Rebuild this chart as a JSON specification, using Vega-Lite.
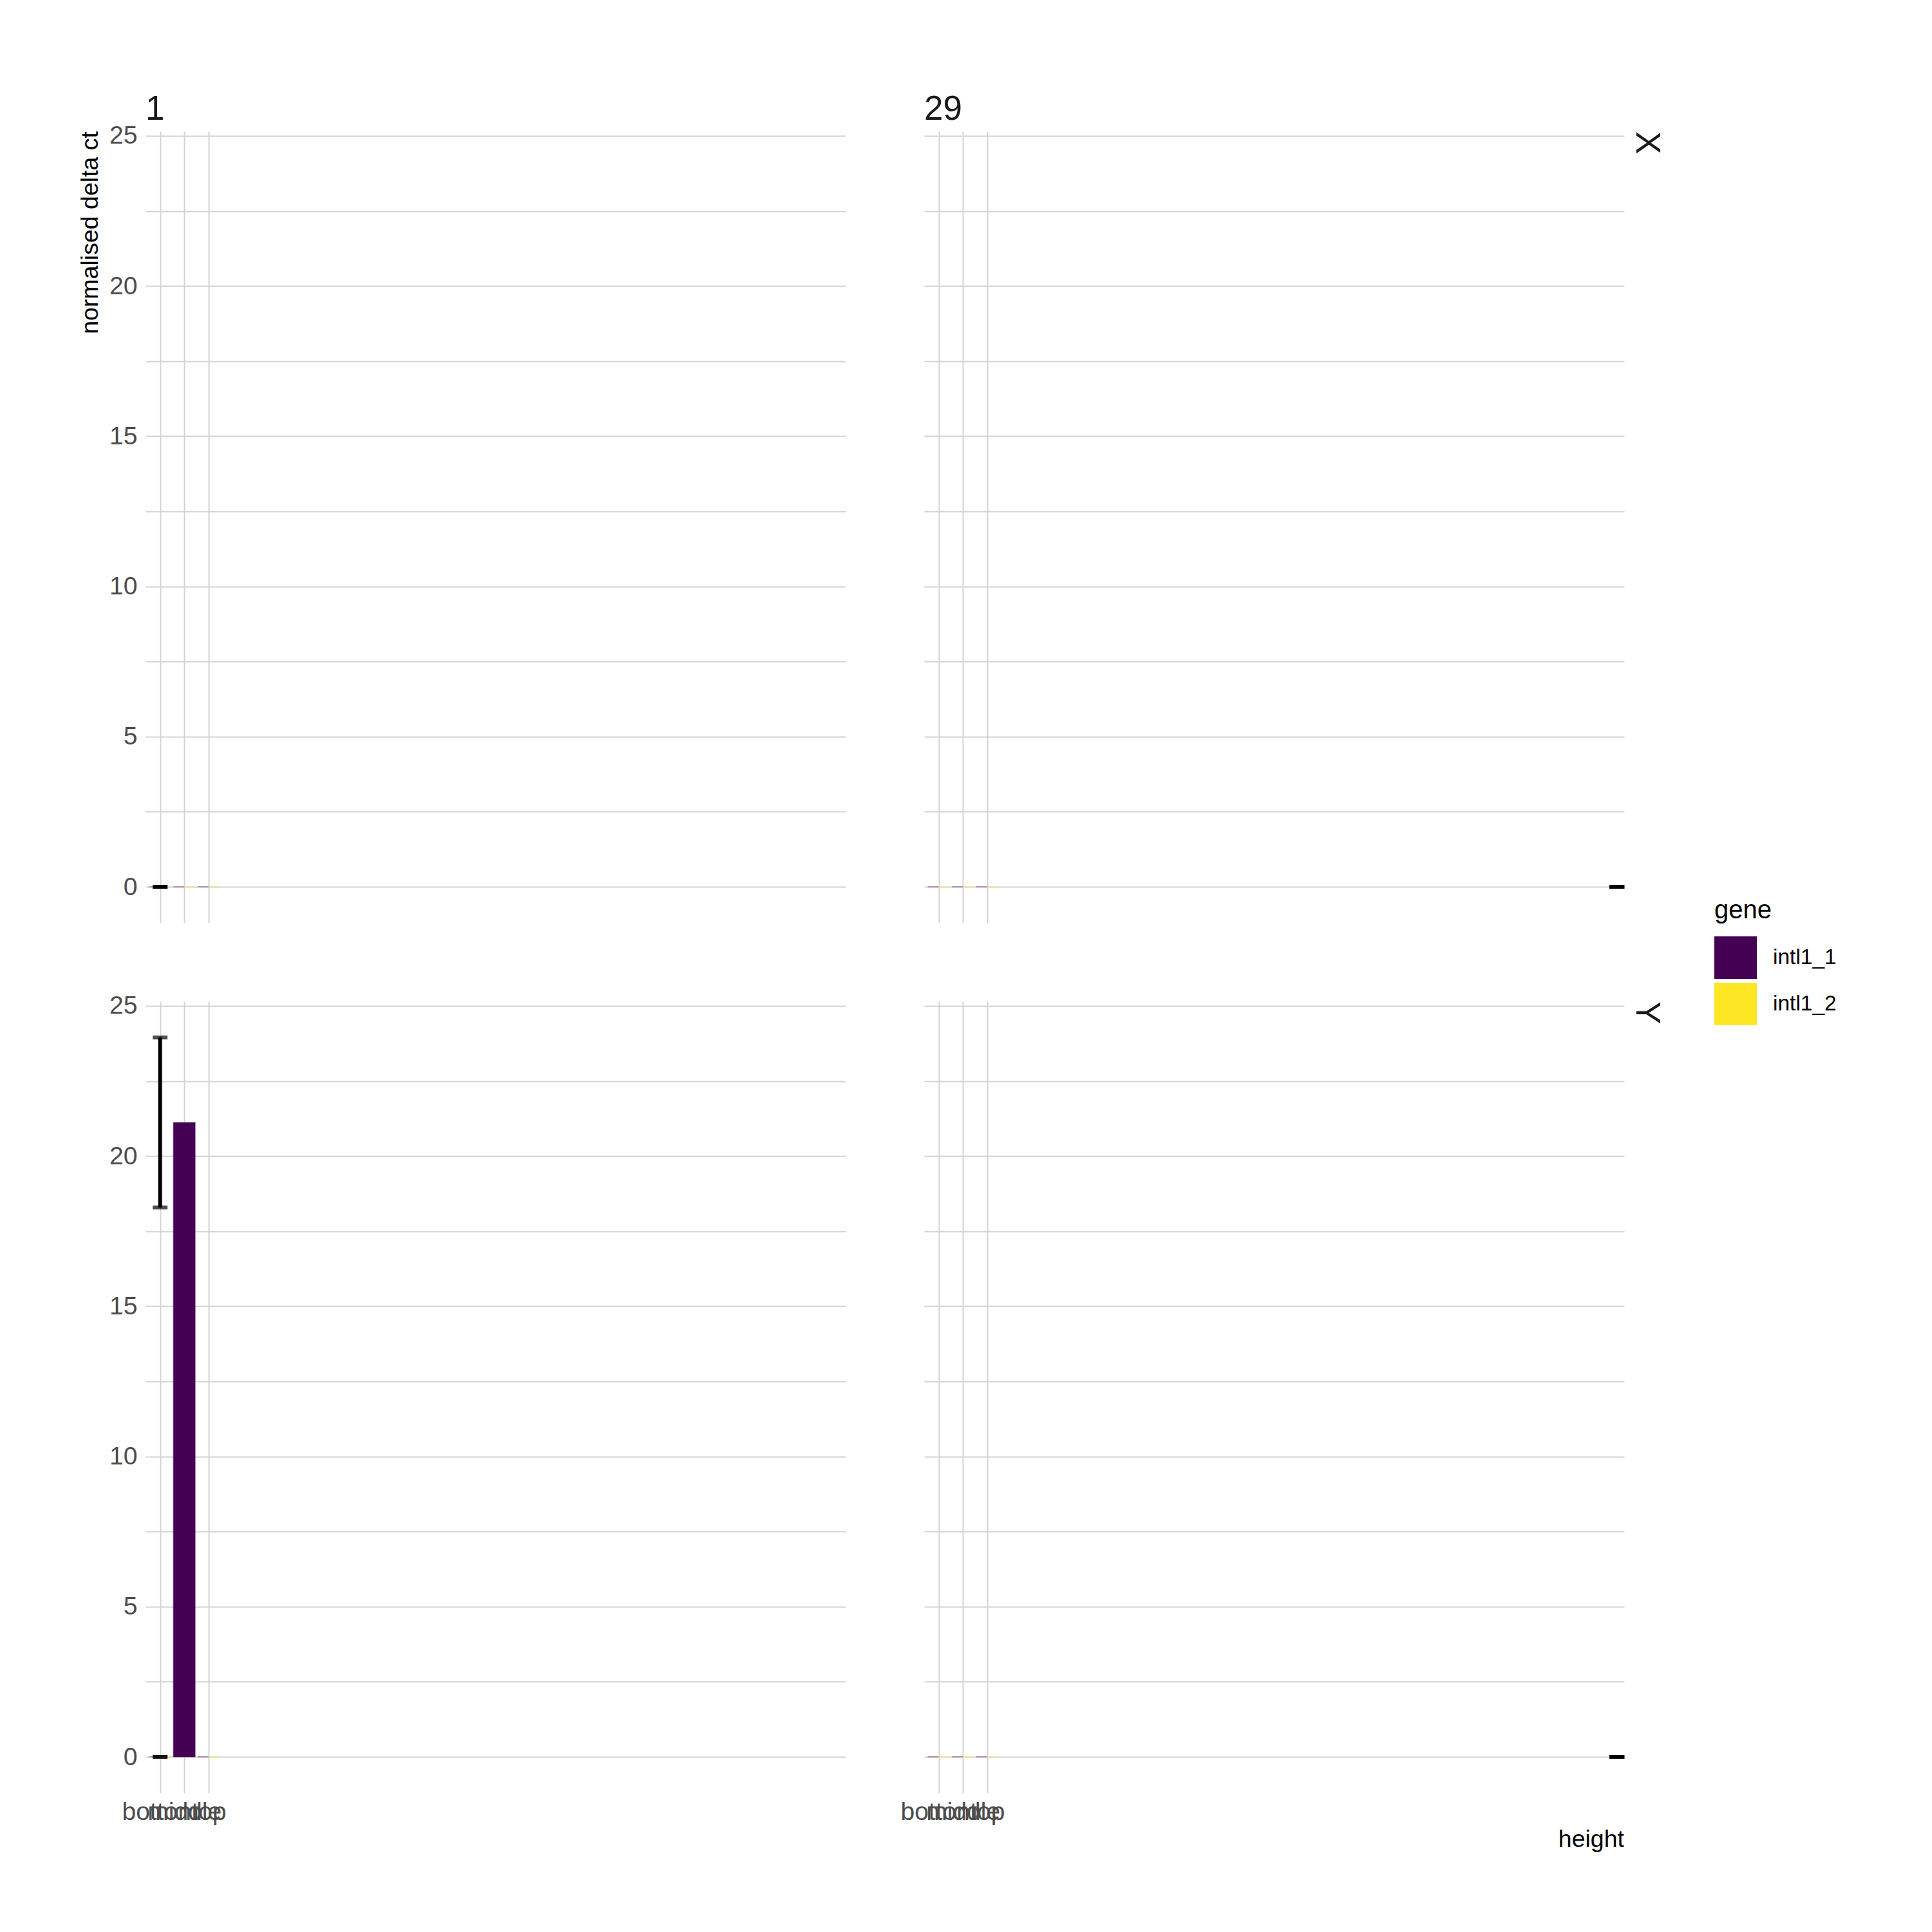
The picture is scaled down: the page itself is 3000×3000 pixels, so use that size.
{
  "$schema": "https://vega.github.io/schema/vega-lite/v6.json",
  "autosize": {"type": "none"},
  "padding": {"left": 226, "top": 204, "right": 2774, "bottom": 2796},
  "background": "white",
  "data": {"values": [
    {"kind": "bar", "sex": "X", "day": 1, "height": "bottom", "gene": "intl1_1", "value": 0},
    {"kind": "bar", "sex": "X", "day": 1, "height": "bottom", "gene": "intl1_2", "value": 0},
    {"kind": "bar", "sex": "X", "day": 1, "height": "middle", "gene": "intl1_1", "value": 0},
    {"kind": "bar", "sex": "X", "day": 1, "height": "middle", "gene": "intl1_2", "value": 0},
    {"kind": "bar", "sex": "X", "day": 1, "height": "top", "gene": "intl1_1", "value": 0},
    {"kind": "bar", "sex": "X", "day": 1, "height": "top", "gene": "intl1_2", "value": 0},
    {"kind": "bar", "sex": "X", "day": 29, "height": "bottom", "gene": "intl1_1", "value": 0},
    {"kind": "bar", "sex": "X", "day": 29, "height": "bottom", "gene": "intl1_2", "value": 0},
    {"kind": "bar", "sex": "X", "day": 29, "height": "middle", "gene": "intl1_1", "value": 0},
    {"kind": "bar", "sex": "X", "day": 29, "height": "middle", "gene": "intl1_2", "value": 0},
    {"kind": "bar", "sex": "X", "day": 29, "height": "top", "gene": "intl1_1", "value": 0},
    {"kind": "bar", "sex": "X", "day": 29, "height": "top", "gene": "intl1_2", "value": 0},
    {"kind": "bar", "sex": "Y", "day": 1, "height": "bottom", "gene": "intl1_1", "value": 0},
    {"kind": "bar", "sex": "Y", "day": 1, "height": "bottom", "gene": "intl1_2", "value": 0},
    {"kind": "bar", "sex": "Y", "day": 1, "height": "middle", "gene": "intl1_1", "value": 21.12},
    {"kind": "bar", "sex": "Y", "day": 1, "height": "top", "gene": "intl1_1", "value": 0},
    {"kind": "bar", "sex": "Y", "day": 1, "height": "top", "gene": "intl1_2", "value": 0},
    {"kind": "bar", "sex": "Y", "day": 29, "height": "bottom", "gene": "intl1_1", "value": 0},
    {"kind": "bar", "sex": "Y", "day": 29, "height": "bottom", "gene": "intl1_2", "value": 0},
    {"kind": "bar", "sex": "Y", "day": 29, "height": "middle", "gene": "intl1_1", "value": 0},
    {"kind": "bar", "sex": "Y", "day": 29, "height": "middle", "gene": "intl1_2", "value": 0},
    {"kind": "bar", "sex": "Y", "day": 29, "height": "top", "gene": "intl1_1", "value": 0},
    {"kind": "bar", "sex": "Y", "day": 29, "height": "top", "gene": "intl1_2", "value": 0},
    {"kind": "err", "sex": "X", "day": 1, "gene": "intl1_1", "ymin": 0, "ymax": 0},
    {"kind": "err", "sex": "X", "day": 1, "gene": "intl1_2", "ymin": 0, "ymax": 0},
    {"kind": "err", "sex": "X", "day": 29, "gene": "intl1_1", "ymin": 0, "ymax": 0},
    {"kind": "err", "sex": "X", "day": 29, "gene": "intl1_2", "ymin": 0, "ymax": 0},
    {"kind": "err", "sex": "Y", "day": 1, "gene": "intl1_1", "ymin": 18.29, "ymax": 23.95},
    {"kind": "err", "sex": "Y", "day": 1, "gene": "intl1_2", "ymin": 0, "ymax": 0},
    {"kind": "err", "sex": "Y", "day": 29, "gene": "intl1_1", "ymin": 0, "ymax": 0},
    {"kind": "err", "sex": "Y", "day": 29, "gene": "intl1_2", "ymin": 0, "ymax": 0}
  ]},
  "facet": {
    "row": {
      "field": "sex", "type": "nominal",
      "header": {
        "title": "normalised delta ct",
        "titleOrient": "left",
        "titleAnchor": "end",
        "titleAngle": -90,
        "titleFontSize": 37.5,
        "titleFontWeight": "normal",
        "titleColor": "black",
        "titlePadding": -38,
        "labelOrient": "right",
        "labelAngle": 90,
        "labelAnchor": "start",
        "labelAlign": "left",
        "labelBaseline": "alphabetic",
        "labelFontSize": 53,
        "labelColor": "#1a1a1a",
        "labelPadding": -35,
        "labelExpr": "'\\u200b\\u00a0' + datum.label"
      }
    },
    "column": {
      "field": "day", "type": "ordinal",
      "header": {
        "title": "height",
        "titleOrient": "bottom",
        "titleAnchor": "end",
        "titleFontSize": 37.5,
        "titleFontWeight": "normal",
        "titleColor": "black",
        "titlePadding": -5,
        "labelOrient": "top",
        "labelAnchor": "start",
        "labelAlign": "left",
        "labelBaseline": "alphabetic",
        "labelFontSize": 53,
        "labelColor": "#1a1a1a",
        "labelPadding": -35,
        "labelExpr": "'\\u200b\\u00a0' + datum.label"
      }
    }
  },
  "spacing": {"row": 122, "column": 121},
  "spec": {
    "width": 1087,
    "height": 1229,
    "layer": [
      {
        "transform": [
          {"filter": "datum.kind === 'bar'"},
          {"joinaggregate": [{"op": "count", "as": "n"}], "groupby": ["sex", "day", "height"]},
          {"calculate": "indexof(['bottom','middle','top'], datum.height) + 1", "as": "xc"},
          {"calculate": "datum.n === 1 ? datum.xc - 0.45 : (datum.gene === 'intl1_1' ? datum.xc - 0.45 : datum.xc)", "as": "x1"},
          {"calculate": "datum.n === 1 ? datum.xc + 0.45 : (datum.gene === 'intl1_1' ? datum.xc : datum.xc + 0.45)", "as": "x2"}
        ],
        "mark": {"type": "rect", "strokeWidth": 2, "strokeOpacity": 0.35},
        "encoding": {
          "x": {
            "field": "x1", "type": "quantitative",
            "scale": {"domain": [0.4, 29.3], "nice": false, "zero": false},
            "axis": {
              "title": null, "values": [1, 2, 3],
              "labelExpr": "['bottom','middle','top'][datum.value - 1]",
              "labelOverlap": false, "labelFlush": false, "labelBound": false,
              "labelPadding": 10
            }
          },
          "x2": {"field": "x2"},
          "y": {
            "field": "value", "type": "quantitative",
            "scale": {"domain": [-1.2, 25.15], "nice": false, "zero": false},
            "axis": {
              "title": null,
              "values": [0, 2.5, 5, 7.5, 10, 12.5, 15, 17.5, 20, 22.5, 25],
              "labelExpr": "datum.value % 5 === 0 ? datum.label : ''",
              "labelPadding": 13
            }
          },
          "y2": {"datum": 0},
          "color": {
            "field": "gene", "type": "nominal",
            "scale": {"domain": ["intl1_1", "intl1_2"], "range": ["#440154", "#FDE725"]},
            "legend": {
              "title": "gene", "orient": "none", "legendX": 2436, "legendY": 1190,
              "symbolType": "square", "symbolSize": 4356, "symbolStrokeWidth": 0,
              "titleFontSize": 40, "titleFontWeight": "normal", "titleColor": "black", "titlePadding": 20,
              "labelFontSize": 33.5, "labelColor": "black", "labelOffset": 25, "rowPadding": 6, "padding": 0
            }
          },
          "stroke": {
            "field": "gene", "type": "nominal",
            "scale": {"domain": ["intl1_1", "intl1_2"], "range": ["#440154", "#FDE725"]},
            "legend": null
          }
        }
      },
      {
        "transform": [{"filter": "datum.kind === 'err'"}],
        "mark": {"type": "errorbar", "ticks": true, "size": 23, "thickness": 6, "color": "black"},
        "encoding": {
          "x": {"field": "day", "type": "quantitative"},
          "y": {"field": "ymin", "type": "quantitative"},
          "y2": {"field": "ymax"}
        }
      }
    ]
  },
  "config": {
    "font": "Liberation Sans",
    "view": {"stroke": null},
    "axis": {
      "domain": false, "ticks": false,
      "grid": true, "gridColor": "#d3d3d3", "gridWidth": 2,
      "labelColor": "#4d4d4d", "labelFontSize": 39, "labelFont": "Liberation Sans"
    },
    "header": {"labelFont": "Liberation Sans", "titleFont": "Liberation Sans"},
    "legend": {"labelFont": "Liberation Sans", "titleFont": "Liberation Sans"}
  }
}
